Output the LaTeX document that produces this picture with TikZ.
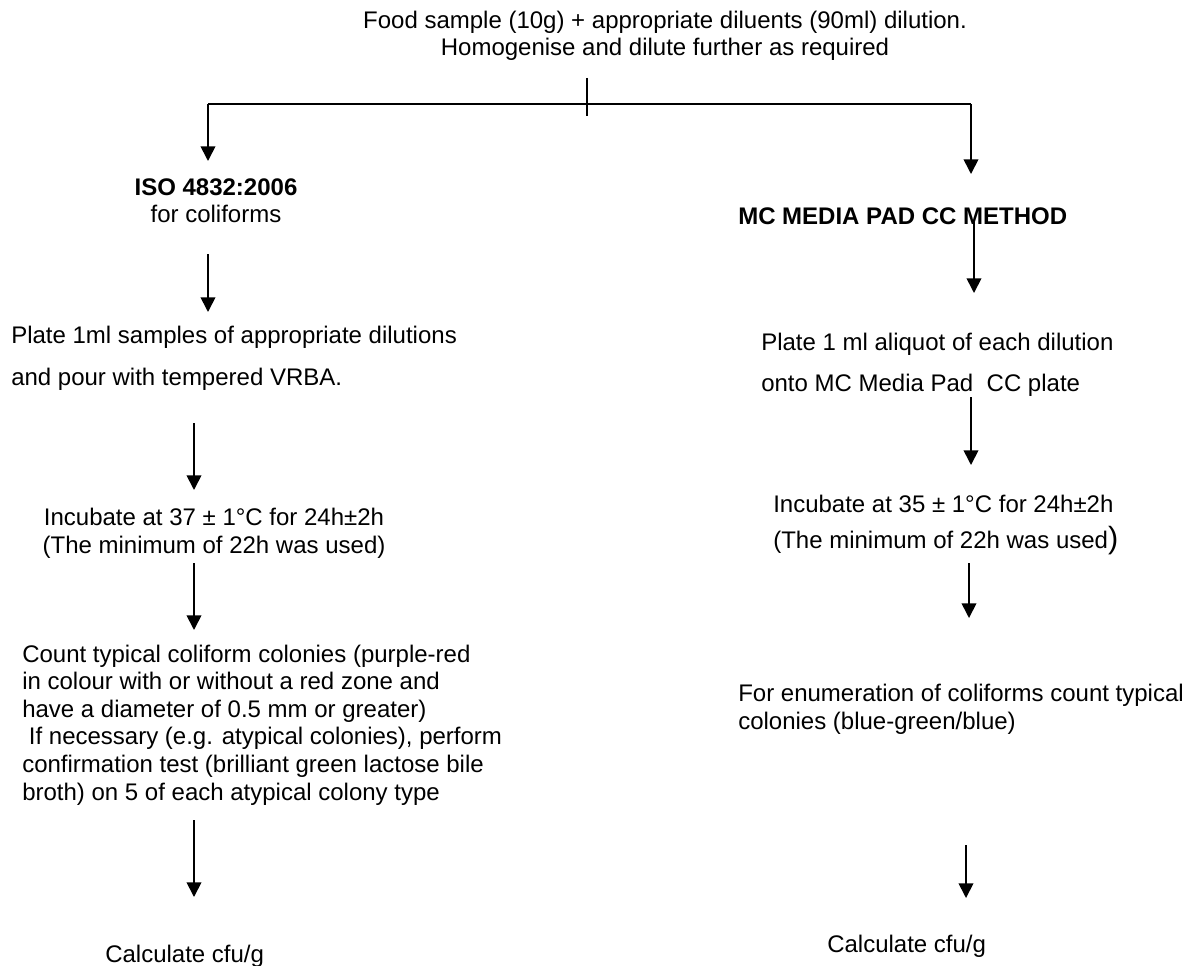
\documentclass[tikz,border=0pt]{standalone}
\usepackage{fontspec}
\setmainfont{Liberation Sans}
\usetikzlibrary{arrows.meta}
\begin{document}
\begin{tikzpicture}[x=0.75pt,y=-0.75pt,
  every node/.style={inner sep=0pt, font=\fontsize{18}{20.7}\selectfont},
  ln/.style={line width=1.3pt},
  arr/.style={line width=1.3pt, -{Triangle[width=11pt,length=11pt]}}]
\useasboundingbox (0,0) rectangle (1191,966);

% texts (anchor base = baseline of the last line)
\node[anchor=base, align=center] (top) at (665,56)
  {Food sample (10g) + appropriate diluents (90ml) dilution.\\Homogenise and dilute further as required};

\node[anchor=base, align=center] (iso) at (216,223)
  {{\bfseries ISO 4832:2006}\\for coliforms};
\node[anchor=base west, align=left] (lplate) at (11,385)
  {Plate 1ml samples of appropriate dilutions\\[10.8pt]and pour with tempered VRBA.};
\node[anchor=base, align=center] (linc) at (214,553)
  {Incubate at 37 ± 1°C for 24h±2h\\(The minimum of 22h was used)};
\node[anchor=base west, align=left] (lcount) at (22,800)
  {Count typical coliform colonies (purple-red\\
   in colour with or without a red zone and\\
   have a diameter of 0.5 mm or greater)\\
   \ If necessary (e.g. atypical colonies), perform\\
   confirmation test (brilliant green lactose bile\\
   broth) on 5 of each atypical colony type};
\node[anchor=base west] (lcalc) at (105,962) {Calculate cfu/g};

\node[anchor=base west, font=\fontsize{18}{20.7}\selectfont\bfseries] (mc) at (738,225)
  {MC MEDIA PAD CC METHOD};
\node[anchor=base west, align=left] (rplate) at (761,391)
  {Plate 1 ml aliquot of each dilution\\[10pt]onto MC Media Pad~ CC plate};
\node[anchor=base west, align=left] (rinc) at (773,548)
  {Incubate at 35 ± 1°C for 24h±2h\\[6pt](The minimum of 22h was used{\fontsize{23}{23}\selectfont)}};
\node[anchor=base west, align=left] (renum) at (738,729)
  {For enumeration of coliforms count typical\\colonies (blue-green/blue)};
\node[anchor=base west] (rcalc) at (827,952) {Calculate cfu/g};

% connector points
\coordinate (tickT) at (587,78);
\coordinate (tickB) at (587,116);
\coordinate (brL) at (208,104);
\coordinate (brR) at (971,104);
\coordinate (brLe) at (208,161);
\coordinate (brRe) at (971,174);
\coordinate (a1s) at (208,254); \coordinate (a1e) at (208,312);
\coordinate (a2s) at (194,423); \coordinate (a2e) at (194,490);
\coordinate (a3s) at (194,563); \coordinate (a3e) at (194,630);
\coordinate (a4s) at (194,820); \coordinate (a4e) at (194,897);
\coordinate (b1s) at (974,222); \coordinate (b1e) at (974,293);
\coordinate (b2s) at (971,397); \coordinate (b2e) at (971,465);
\coordinate (b3s) at (969,563); \coordinate (b3e) at (969,618);
\coordinate (b4s) at (966,845); \coordinate (b4e) at (966,898);

% connectors
\draw[ln] (tickT) -- (tickB);
\draw[ln] (brL) -- (brR);
\draw[arr] (brL) -- (brLe);
\draw[arr] (brR) -- (brRe);
\draw[arr] (a1s) -- (a1e);
\draw[arr] (a2s) -- (a2e);
\draw[arr] (a3s) -- (a3e);
\draw[arr] (a4s) -- (a4e);
\draw[arr] (b1s) -- (b1e);
\draw[arr] (b2s) -- (b2e);
\draw[arr] (b3s) -- (b3e);
\draw[arr] (b4s) -- (b4e);
\end{tikzpicture}
\end{document}
